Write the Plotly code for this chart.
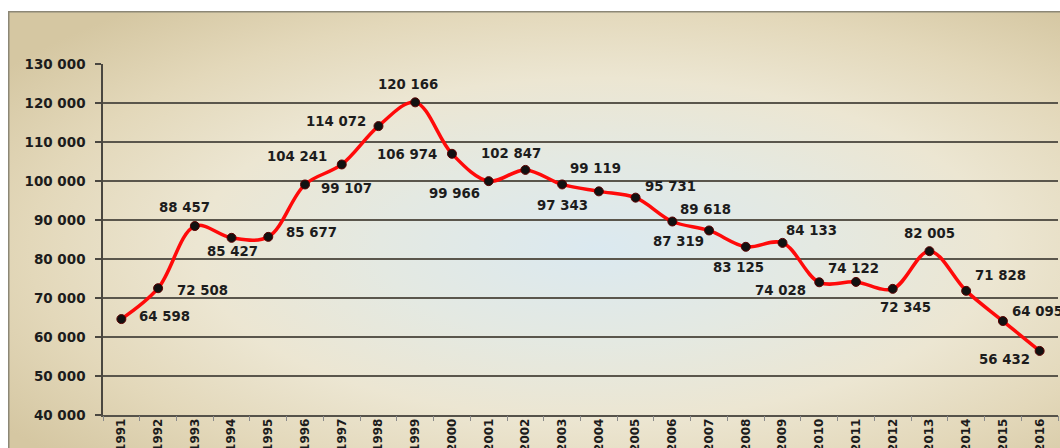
import base64
import plotly.graph_objects as go

# ---- data ----
years = ["1991", "1992", "1993", "1994", "1995", "1996", "1997", "1998", "1999",
         "2000", "2001", "2002", "2003", "2004", "2005", "2006", "2007", "2008",
         "2009", "2010", "2011", "2012", "2013", "2014", "2015", "2016"]
values = [64598, 72508, 88457, 85427, 85677, 99107, 104241, 114072, 120166,
          106974, 99966, 102847, 99119, 97343, 95731, 89618, 87319, 83125,
          84133, 74028, 74122, 72345, 82005, 71828, 64095, 56432]
y_tick_vals = [40000, 50000, 60000, 70000, 80000, 90000, 100000, 110000, 120000, 130000]
y_tick_text = ["40 000", "50 000", "60 000", "70 000", "80 000", "90 000",
               "100 000", "110 000", "120 000", "130 000"]

# label placement (pixel offsets of label centre from the point; +dy = down)
label_dx = [43, 44, -10, 1, 43, 41, -45, -42, -7, -45, -34, -14, 33, -36, 35, 33,
            -31, -7, 29, -39, -2, 13, 0, 34, 35, -35]
label_dy = [-3, 2, -19, 14, -4, 4, -8, -5, -18, 1, 12, -16, -16, 14, -11, -12,
            11, 21, -12, 8, -13, 19, -18, -15, -10, 9]


def fmt(v):
    return f"{v:,}".replace(",", " ")


FONT = "DejaVu Sans"
TXT = "#1c1c1c"

W, H = 1060, 448
ML, MR, MT, MB = 103, 2, 64, 33
PW, PH = W - ML - MR, H - MT - MB

# background frame with radial gradient
bx, by, bw, bh = 8, 11, 1060, 445
svg = f'''<svg xmlns="http://www.w3.org/2000/svg" width="{bw}" height="{bh}" viewBox="0 0 {bw} {bh}" preserveAspectRatio="none">
<defs><radialGradient id="g" cx="0.55" cy="0.52" r="0.68" gradientUnits="objectBoundingBox">
<stop offset="0" stop-color="#dbe9f0"/>
<stop offset="0.3" stop-color="#e4e9e2"/>
<stop offset="0.55" stop-color="#ece6d2"/>
<stop offset="0.78" stop-color="#e3d8ba"/>
<stop offset="1" stop-color="#d5c7a2"/>
</radialGradient></defs>
<rect x="0.75" y="0.75" width="{bw + 10}" height="{bh + 10}" fill="url(#g)" stroke="#8c8776" stroke-width="1.5"/>
</svg>'''
src = "data:image/svg+xml;base64," + base64.b64encode(svg.encode()).decode()

xi = list(range(len(years)))

fig = go.Figure()
fig.add_trace(go.Scatter(
    x=xi, y=values, mode="lines+markers",
    line=dict(color="#ff0a0a", width=3.5, shape="spline", smoothing=1),
    marker=dict(color="#111111", size=9, line=dict(color="#5a0000", width=1)),
    cliponaxis=False, hoverinfo="y", showlegend=False,
))

annotations = []
for i, v, dx, dy in zip(xi, values, label_dx, label_dy):
    annotations.append(dict(
        x=i, y=v, xref="x", yref="y", text=fmt(v), showarrow=False,
        xshift=dx, yshift=-dy, xanchor="center", yanchor="middle",
        font=dict(family=FONT, size=13.3, color=TXT, weight="bold"),
    ))

fig.update_layout(
    width=W, height=H,
    margin=dict(l=ML, r=MR, t=MT, b=MB, pad=0, autoexpand=False),
    paper_bgcolor="white",
    plot_bgcolor="rgba(0,0,0,0)",
    annotations=annotations,
    images=[dict(
        source=src, xref="paper", yref="paper",
        x=(bx - ML) / PW, y=(MT + PH - by) / PH,
        sizex=bw / PW, sizey=bh / PH,
        xanchor="left", yanchor="top", sizing="stretch", layer="below",
    )],
    xaxis=dict(
        range=[-0.5, len(years) - 0.5],
        tickmode="array", tickvals=xi, ticktext=years,
        ticks="", tickangle=-90, showgrid=False, zeroline=False,
        showline=True, linecolor="#55524a", linewidth=1.5,
        tickfont=dict(family=FONT, size=12, color=TXT, weight="bold"),
        ticklabelstandoff=-3, automargin=False, fixedrange=True,
    ),
    yaxis=dict(
        range=[40000, 130000], tickvals=y_tick_vals, ticktext=y_tick_text,
        ticks="outside", ticklen=6, tickcolor="#4a4740", tickwidth=1.5,
        showgrid=True, gridcolor="#5a564c", gridwidth=1.5, zeroline=False,
        showline=True, linecolor="#4a4740", linewidth=1.5,
        tickfont=dict(family=FONT, size=13.5, color=TXT, weight="bold"),
        ticklabelstandoff=7, automargin=False, fixedrange=True,
    ),
    xaxis2=dict(
        overlaying="x", side="bottom", anchor="y",
        range=[-0.5, len(years) - 0.5],
        tickmode="array", tickvals=[k + 0.5 for k in range(-1, len(years))],
        ticks="outside", ticklen=5, tickcolor="#8a8a8a", tickwidth=1,
        showticklabels=False, showgrid=False, zeroline=False, showline=False,
        automargin=False, fixedrange=True,
    ),
)
fig.add_trace(go.Scatter(x=[None], y=[None], xaxis="x2", showlegend=False, hoverinfo="skip"))

fig.write_html("out.html", config={"displayModeBar": False},
               post_script="document.body.style.margin='0';")
